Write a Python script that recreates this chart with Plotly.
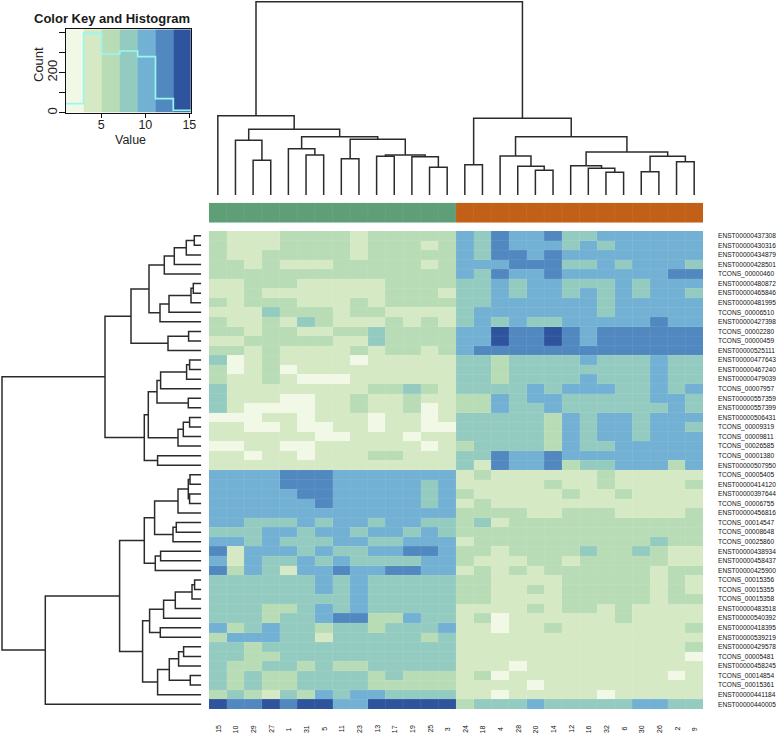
import plotly.graph_objects as go

W, H = 778, 734
FONT = "Liberation Sans"

COLUMN_LABELS = ["15","10","29","27","1","31","5","11","23","13","17","19","25","3",
                 "24","18","4","28","20","14","12","16","32","6","30","26","2","9"]
ROW_LABELS = ["ENST00000437308","ENST00000430316","ENST00000434879","ENST00000428501","TCONS_00000460",
              "ENST00000480872","ENST00000465846","ENST00000481995","TCONS_00006510","ENST00000427398",
              "TCONS_00002280","TCONS_00000459","ENST00000525111","ENST00000477643","ENST00000467240",
              "ENST00000479039","TCONS_00007957","ENST00000557359","ENST00000557399","ENST00000506431",
              "TCONS_00009319","TCONS_00009811","TCONS_00026585","TCONS_00001380","ENST00000507950",
              "TCONS_00005405","ENST00000414120","ENST00000397644","TCONS_00006755","ENST00000456816",
              "TCONS_00014547","TCONS_00008648","TCONS_00025860","ENST00000438934","ENST00000458437",
              "ENST00000425900","TCONS_00015356","TCONS_00015355","TCONS_00015358","ENST00000483518",
              "ENST00000540392","ENST00000418395","ENST00000539219","ENST00000429578","TCONS_00005481",
              "ENST00000458245","TCONS_00014854","TCONS_00015361","ENST00000441184","ENST00000440005"]

# colour-key band of every cell, one string per row, one digit per column
CELL_BANDS = [
 "21112222122222" "43544533444444",
 "21112222122212" "43544434344444",
 "21122222122222" "43554544444444",
 "22121112222212" "44455533434443",
 "22222222222222" "43544544444455",
 "11222111112222" "33434433343444",
 "11211111112221" "33434434343443",
 "21222111212222" "33444444344444",
 "11132221221111" "34444444344444",
 "21121321112121" "34343344444544",
 "22122112232222" "44655654555555",
 "11222221132222" "44655654555555",
 "22121111212212" "45555555555555",
 "30121111011111" "33233334333433",
 "20120111111111" "33233333333433",
 "21121000111111" "33233334333433",
 "31111111122321" "33334344433434",
 "31110011211211" "22434433333443",
 "31000011211201" "22433433333343",
 "00011011101101" "33333243443444",
 "11001001101100" "33333243443443",
 "11111100111011" "33333243443444",
 "00110011111101" "23333243344444",
 "11011011122111" "33544544444444",
 "11111111111111" "31544523344424",
 "44445554444444" "12111111211111",
 "44445554444434" "11111211211112",
 "44444554444434" "21111121121111",
 "44444454444434" "12111111111111",
 "44444444444444" "22221122211112",
 "44333434434433" "23122222222222",
 "33344344344343" "22222222222222",
 "44343334433444" "12222222222322",
 "51444343344554" "22122223223211",
 "41433434333344" "21112212222211",
 "52431445445544" "12121222222122",
 "33333343433333" "22111122222121",
 "33333343433333" "22112122222121",
 "33333333433333" "22111122222122",
 "33322343433333" "11112122121111",
 "33323345522433" "12011111121111",
 "42343323323334" "11011211111112",
 "24443313333323" "11111111111111",
 "33233333333333" "11111111111112",
 "33223333333333" "11111111111110",
 "32233232233333" "11101111111111",
 "32322333323222" "12011111111101",
 "32322333322222" "11110111111111",
 "23213243443333" "11011111011111",
 "65565664466666" "23334333334433",
]
SIDE_GROUPS = [0] * 14 + [1] * 14

BAND_EDGES = [0.95, 2.98, 5.02, 7.1, 9.13, 11.15, 13.18, 15.19]
BAND_COLORS = ["#F1F8E5", "#D5E9C5", "#B8DCB6", "#94CBC1", "#72B0D4", "#5188C0", "#2E549E"]
KEY_COUNTS = [45, 396, 292, 307, 279, 70, 12]
SIDE_COLORS = ["#5E9F78", "#C26018"]

# merges: (left, right, height); a negative member is a leaf, a positive one an earlier merge
COLUMN_MERGES = [
 (-3,-4,34.7),(-2,1,54.7),(-6,-7,40),(-5,3,46.3),(-8,-9,36.3),(-13,-14,27.7),(-12,6,38.3),(-10,-11,38.7),
 (8,7,40),(5,9,55.7),(4,10,58.3),(2,11,65.7),(-1,12,79.3),(-15,-16,30.3),(-19,-20,24.7),(-18,15,28.7),
 (-17,16,39),(-23,-24,22.7),(-22,18,26.7),(-21,19,29.3),(-25,-26,23.3),(-27,-28,33.3),(21,22,38.7),
 (20,23,43),(17,24,58.3),(14,25,76.7),(13,26,193.3)]
ROW_MERGES = [
 (-1,-2,7),(1,-3,15),(2,-4,27),(3,-5,37),(-6,-7,8),(5,-8,10.3),(6,-9,32.3),(7,-10,41.3),(4,8,52.3),
 (-11,-12,12.7),(10,-13,33.3),(9,11,70.3),(-14,-15,11.7),(13,-16,14.7),(14,-17,40.7),(-18,-19,13),
 (15,16,44.3),(-20,-21,11.7),(18,-22,18),(19,-23,23.3),(17,20,53),(-24,-25,43.7),(21,22,57),(12,23,96.3),
 (-26,-27,11.3),(-28,-29,11.7),(25,26,13),(27,-30,23.3),(-31,-32,25),(29,-33,28.3),(28,30,46.7),
 (-34,-35,40.7),(32,-36,46),(31,33,57),(-37,-38,6.7),(35,-39,9.3),(36,-40,26),(37,-41,37.7),(-42,-43,41),
 (38,39,51.7),(-44,-45,17.7),(41,-46,22.7),(-47,-48,11),(42,43,32),(44,-49,43.7),(40,45,58.7),(34,46,81.7),
 (47,-50,156),(24,48,199.3)]


def dendro_paths(merges):
    """Return positions along the leaf axis and heights for a dendrogram."""
    done = {}
    pos, hgt = [], []
    for k, (a, b, h) in enumerate(merges, start=1):
        pa, ha = (-a - 1, 0.0) if a < 0 else done[a]
        pb, hb = (-b - 1, 0.0) if b < 0 else done[b]
        pos += [pa, pa, pb, pb, None]
        hgt += [ha, h, h, hb, None]
        done[k] = ((pa + pb) / 2, h)
    return pos, hgt


def px_x(a, b):
    return [a / W, b / W]


def px_y(top, bottom):
    return [1 - bottom / H, 1 - top / H]


n_rows, n_cols = len(ROW_LABELS), len(COLUMN_LABELS)
mids = [(BAND_EDGES[i] + BAND_EDGES[i + 1]) / 2 for i in range(len(BAND_COLORS))]
z_main = [[mids[int(ch)] for ch in row] for row in CELL_BANDS]

span = BAND_EDGES[-1] - BAND_EDGES[0]
cscale = []
for i, c in enumerate(BAND_COLORS):
    cscale.append([(BAND_EDGES[i] - BAND_EDGES[0]) / span, c])
    cscale.append([(BAND_EDGES[i + 1] - BAND_EDGES[0]) / span, c])

fig = go.Figure()
band_kw = dict(colorscale=cscale, zmin=BAND_EDGES[0], zmax=BAND_EDGES[-1], showscale=False, hoverinfo="skip")

fig.add_trace(go.Heatmap(z=z_main, x=list(range(n_cols)), y=list(range(n_rows)), xaxis="x", yaxis="y", **band_kw))

# faint seams between the cells
gx, gy = [], []
for c in range(1, n_cols):
    gx += [c - 0.5, c - 0.5, None]
    gy += [-0.5, n_rows - 0.5, None]
for r in range(1, n_rows):
    gx += [-0.5, n_cols - 0.5, None]
    gy += [r - 0.5, r - 0.5, None]
fig.add_trace(go.Scatter(x=gx, y=gy, mode="lines", xaxis="x", yaxis="y", hoverinfo="skip",
                         line=dict(color="rgba(255,255,255,0.16)", width=0.5)))

# side colour bar
fig.add_trace(go.Heatmap(z=[SIDE_GROUPS], x=list(range(n_cols)), xaxis="x2", yaxis="y4", showscale=False,
                         zmin=0, zmax=1, hoverinfo="skip",
                         colorscale=[[0, SIDE_COLORS[0]], [0.5, SIDE_COLORS[0]], [0.5, SIDE_COLORS[1]], [1, SIDE_COLORS[1]]]))
sx = []
for c in range(1, n_cols):
    sx += [c - 0.5, c - 0.5, None]
fig.add_trace(go.Scatter(x=sx, y=[v for _ in range(1, n_cols) for v in (-0.5, 0.5, None)], mode="lines",
                         xaxis="x2", yaxis="y4", hoverinfo="skip",
                         line=dict(color="rgba(255,255,255,0.12)", width=0.5)))

# dendrograms
LINE = dict(color="#2b2b2b", width=1.5)
cx, ch = dendro_paths(COLUMN_MERGES)
fig.add_trace(go.Scatter(x=cx, y=ch, mode="lines", xaxis="x2", yaxis="y2", line=LINE, cliponaxis=False, hoverinfo="skip"))
ry, rh = dendro_paths(ROW_MERGES)
fig.add_trace(go.Scatter(x=rh, y=ry, mode="lines", xaxis="x3", yaxis="y3", line=LINE, cliponaxis=False, hoverinfo="skip"))

# colour key
fig.add_trace(go.Heatmap(z=[mids], x=BAND_EDGES, y=[0, 415], xaxis="x5", yaxis="y5", **band_kw))
kx, ky = [], []
for i, cnt in enumerate(KEY_COUNTS):
    kx += [BAND_EDGES[i], BAND_EDGES[i + 1]]
    ky += [cnt, cnt]
fig.add_trace(go.Scatter(x=kx, y=ky, mode="lines", xaxis="x5", yaxis="y5", hoverinfo="skip",
                         line=dict(color="#9CF6F0", width=1.7)))

blank = dict(showgrid=False, zeroline=False, showticklabels=False, ticks="", showline=False, automargin=False)
fig.update_layout(
    template="none",
    width=W, height=H, autosize=False, margin=dict(l=0, r=0, t=0, b=0), showlegend=False,
    paper_bgcolor="white", plot_bgcolor="white", font=dict(family=FONT, color="#222222"),
    xaxis=dict(domain=px_x(209, 703), range=[-0.5, n_cols - 0.5], **blank),
    yaxis=dict(domain=px_y(231, 709), range=[n_rows - 0.5, -0.5], side="right", anchor="x", automargin=False,
               tickmode="array", tickvals=list(range(n_rows)), ticktext=ROW_LABELS,
               tickfont=dict(size=6.6, family=FONT, color="#111111"), ticklabelstandoff=14,
               showgrid=False, zeroline=False, ticks="", showline=False),
    xaxis2=dict(domain=px_x(209, 703), range=[-0.5, n_cols - 0.5], anchor="y2", **blank),
    yaxis2=dict(domain=px_y(0, 195), range=[0, 195], anchor="x2", **blank),
    xaxis3=dict(domain=px_x(0, 201.3), range=[201.3, 0], anchor="y3", **blank),
    yaxis3=dict(domain=px_y(231, 709), range=[n_rows - 0.5, -0.5], anchor="x3", **blank),
    yaxis4=dict(domain=px_y(202.7, 222.7), range=[-0.5, 0.5], anchor="x2", **blank),
    xaxis5=dict(domain=px_x(65.7, 191), range=[BAND_EDGES[0], BAND_EDGES[-1]], anchor="y5", automargin=False,
                tickmode="array", tickvals=[5, 10, 15], ticks="outside", ticklen=4.5, tickwidth=1, tickcolor="#111111",
                ticklabelstandoff=-4,
                tickfont=dict(size=12.5, family=FONT, color="#222222"), showgrid=False, zeroline=False,
                showline=True, linecolor="#111111", linewidth=1, mirror=True),
    yaxis5=dict(domain=px_y(29.3, 112.7), range=[0, 415], anchor="x5", automargin=False,
                tickmode="array", tickvals=[0, 100, 200, 300, 400], ticktext=["0", "", "200", "", ""],
                tickangle=-90, ticks="outside", ticklen=5.5, tickwidth=1, tickcolor="#111111",
                ticklabelstandoff=-3,
                tickfont=dict(size=13, family=FONT, color="#222222"), showgrid=False, zeroline=False,
                showline=True, linecolor="#111111", linewidth=1, mirror=True),
)

annos = []
for i, lab in enumerate(COLUMN_LABELS):
    annos.append(dict(x=i, xref="x", y=1 - 729 / H, yref="paper", text=lab, textangle=-90, showarrow=False,
                      xanchor="center", yanchor="middle", font=dict(size=7, family=FONT, color="#111111")))
annos.append(dict(x=112 / W, y=1 - 18 / H, xref="paper", yref="paper", text="<b>Color Key and Histogram</b>", showarrow=False,
                  xanchor="center", yanchor="middle", font=dict(size=13, family=FONT, color="#1a1a1a")))
annos.append(dict(x=38 / W, y=1 - 65 / H, xref="paper", yref="paper", text="Count", textangle=-90, showarrow=False,
                  xanchor="center", yanchor="middle", font=dict(size=13, family=FONT, color="#222222")))
annos.append(dict(x=130 / W, y=1 - 140 / H, xref="paper", yref="paper", text="Value", showarrow=False,
                  xanchor="center", yanchor="middle", font=dict(size=12.5, family=FONT, color="#222222")))
fig.update_layout(annotations=annos)

fig.write_html("out.html", post_script="document.body.style.margin='0';", config={"displayModeBar": False})
